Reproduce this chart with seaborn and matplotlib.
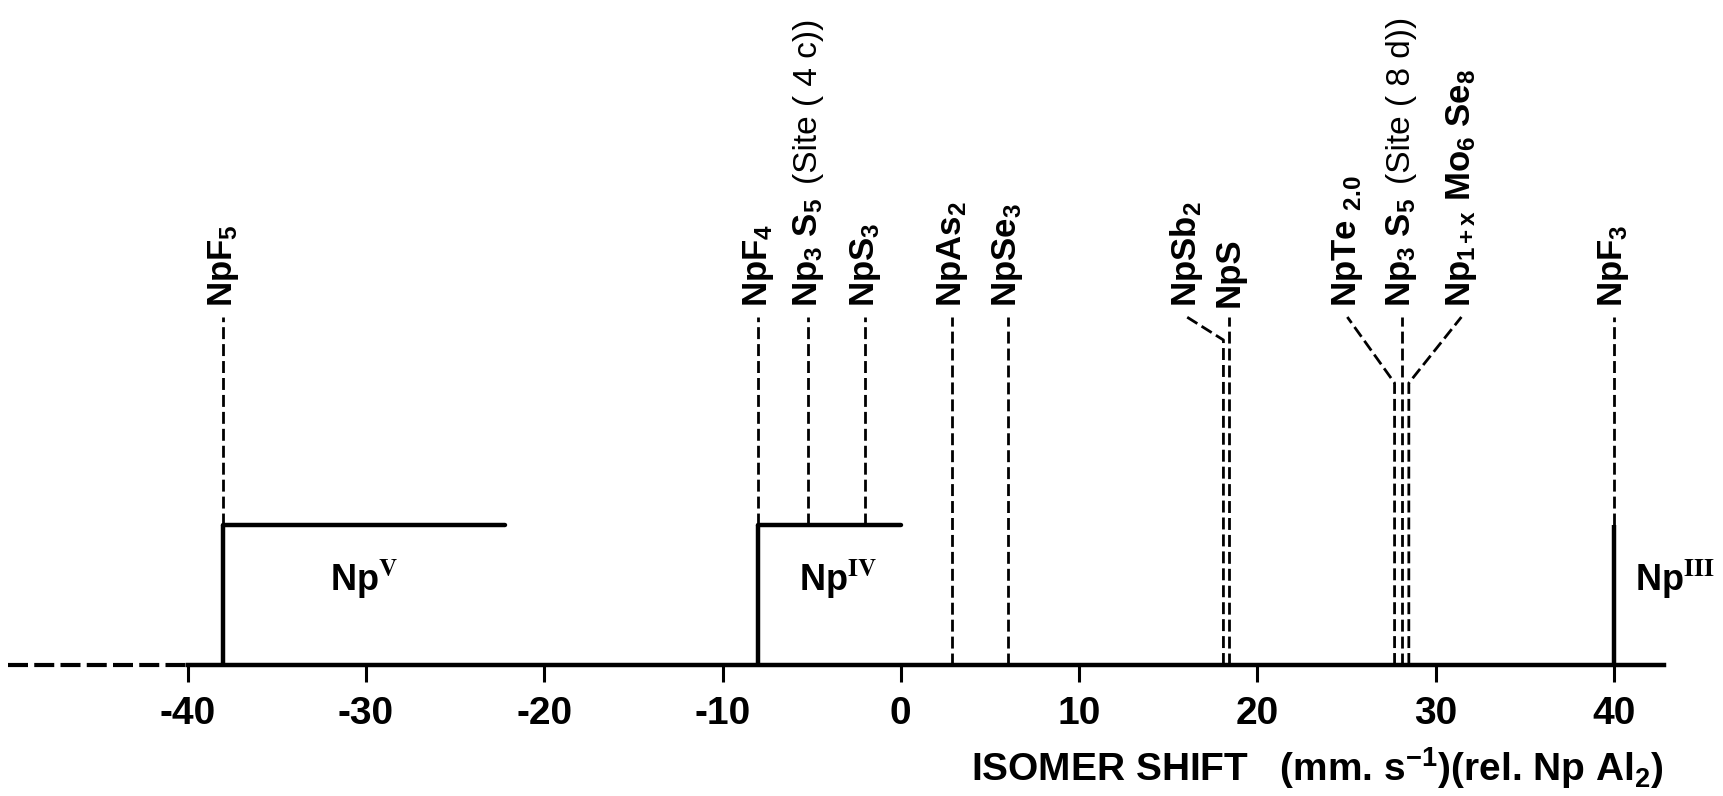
import matplotlib
matplotlib.use('Agg')
import matplotlib.pyplot as plt
import seaborn as sns

# Isomer shifts (mm/s, rel. NpAl2) of the neptunium compounds
compounds = ['NpF$_5$', 'NpF$_4$', 'Np$_3$ S$_5$', 'NpS$_3$', 'NpAs$_2$', 'NpSe$_3$',
             'NpSb$_2$', 'NpS', 'NpTe $_{2.0}$', 'Np$_3$ S$_5$',
             'Np$_{1+x}$ Mo$_6$ Se$_8$', 'NpF$_3$']
notes = ['', '', '(Site ( 4 c))', '', '', '', '', '', '', '(Site ( 8 d))', '', '']
shifts = [-38.0, -8.0, -5.2, -2.0, 2.9, 6.0, 18.1, 18.4, 27.7, 28.1, 28.5, 40.0]
valence = ['V', 'IV', 'IV', 'IV', '', '', '', '', '', '', '', 'III']

# valence ranges of the ionic reference compounds
ranges = ['V', 'IV', 'III']
range_lo = [-38.0, -8.0, 40.0]
range_hi = [-22.2, 0.0, 40.0]

tick_values = [-40, -30, -20, -10, 0, 10, 20, 30, 40]

# layout (heights in pixel-like units above the axis)
BAR = 140
TOP = 348
LABEL = 358
bend = [0, 0, 0, 0, 0, 0, 325, 0, 282, 0, 282, 0]
label_off = [0, 0, 0, 0, 0, 0, -2.05, 0, -2.65, 0, 2.95, 0]

sns.set_style('white')
plt.rcParams['font.family'] = ['Liberation Sans', 'DejaVu Sans']
plt.rcParams['font.weight'] = 'bold'
plt.rcParams['text.color'] = 'black'
plt.rcParams['axes.labelcolor'] = 'black'
plt.rcParams['xtick.color'] = 'black'
plt.rcParams['mathtext.fontset'] = 'stix'
plt.rcParams['mathtext.default'] = 'regular'
plt.rcParams['axes.unicode_minus'] = False

fig = plt.figure(figsize=(17.24, 7.96), dpi=100)
ax = fig.add_axes([0, 0, 1, 1])
ax.set_xlim(-50.53, 46.18)
ax.set_ylim(-131, 665)

dash = dict(color='black', lw=2.0, linestyle=(0, (4.3, 1.8)), solid_capstyle='butt')
solid = dict(color='black', lw=3.2, solid_capstyle='butt')

# valence ranges: solid step from the axis, horizontal bar
for name, lo, hi in zip(ranges, range_lo, range_hi):
    ax.plot([lo, lo], [0, BAR], **solid)
    lab = 'Np$^{\\mathbf{%s}}$' % name
    if hi != lo:
        sns.lineplot(x=[lo, hi], y=[BAR, BAR], ax=ax, color='black', lw=3.2,
                     solid_capstyle='round')
        xc = (lo + hi) / 2 if name == 'V' else lo + 4.5
        ax.text(xc, 86, lab, fontsize=26, ha='center', va='center')
    else:
        ax.text(lo + 1.2, 86, lab, fontsize=26, ha='left', va='center')

# compound lines and labels
for i, (lab, x) in enumerate(zip(compounds, shifts)):
    base = BAR if valence[i] else 0
    lx = x + label_off[i]
    if label_off[i] == 0:
        ax.plot([x, x], [base, TOP], **dash)
    else:
        ax.plot([x, x, lx], [base, bend[i], TOP], **dash)
    t = ax.text(lx, LABEL, lab, rotation=90, fontsize=25, ha='center', va='bottom')
    if notes[i]:
        ax.annotate(notes[i], xy=(0.5, 1), xycoords=t, xytext=(0, 10),
                    textcoords='offset points', rotation=90, fontsize=24,
                    fontweight='normal', ha='center', va='bottom')

# axis: dashed continuation to the left
ax.plot([-50.1, -40], [0, 0], color='black', lw=3.0, linestyle=(0, (4.8, 1.5)))

for s in ['left', 'top', 'right']:
    ax.spines[s].set_visible(False)
ax.spines['bottom'].set_position(('data', 0))
ax.spines['bottom'].set_bounds(-40, 42.8)
ax.spines['bottom'].set_linewidth(3.2)
ax.spines['bottom'].set_color('black')
ax.set_yticks([])
ax.set_xticks(tick_values)
ax.set_xticklabels([str(v) for v in tick_values])
ax.tick_params(axis='x', direction='out', length=12, width=2.2, pad=10,
               labelsize=28, bottom=True)
for lbl in ax.get_xticklabels():
    lbl.set_fontweight('bold')

ax.set_xlabel('ISOMER SHIFT   (mm. s$^{-1}$)(rel. Np Al$_2$)', fontsize=28,
              fontweight='bold')
ax.xaxis.set_label_coords(42.8, -103, transform=ax.transData)
ax.xaxis.label.set_ha('right')
ax.xaxis.label.set_va('center')

plt.savefig('out.png', dpi=100)
